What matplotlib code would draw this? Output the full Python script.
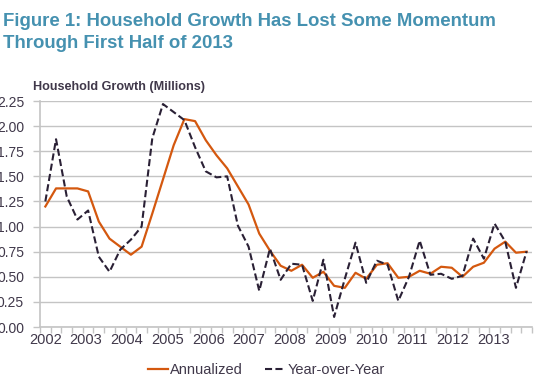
import numpy as np
import matplotlib
matplotlib.use("Agg")
import matplotlib.pyplot as plt

# quarterly household growth, 2002Q1 .. 2013Q2 (millions)
annualized = [1.20, 1.38, 1.38, 1.38, 1.35, 1.05, 0.88, 0.80, 0.72, 0.80,
              1.13, 1.47, 1.81, 2.07, 2.05, 1.86, 1.71, 1.58, 1.40, 1.22,
              0.93, 0.76, 0.61, 0.56, 0.62, 0.49, 0.55, 0.41, 0.39, 0.54,
              0.48, 0.62, 0.635, 0.49, 0.50, 0.56, 0.53, 0.60, 0.59, 0.50,
              0.60, 0.64, 0.78, 0.85, 0.74, 0.75]
year_over_year = [1.25, 1.87, 1.30, 1.07, 1.16, 0.70, 0.55, 0.77, 0.87, 1.00,
                  1.88, 2.22, 2.14, 2.06, 1.79, 1.55, 1.49, 1.50, 1.01, 0.80,
                  0.36, 0.78, 0.47, 0.63, 0.62, 0.26, 0.67, 0.10, 0.48, 0.84,
                  0.44, 0.66, 0.62, 0.26, 0.50, 0.86, 0.52, 0.53, 0.48, 0.51,
                  0.88, 0.68, 1.03, 0.85, 0.39, 0.755]
year_labels = [str(y) for y in range(2002, 2014)]
y_ticks = [0.00, 0.25, 0.50, 0.75, 1.00, 1.25, 1.50, 1.75, 2.00, 2.25]

plt.rcParams['font.family'] = ['Liberation Sans', 'DejaVu Sans']

TEXT = '#40384a'
GRID = '#c4c4c4'
ORANGE = '#d4580f'
DARK = '#2a2035'
TITLE = '#4591b0'

fig = plt.figure(figsize=(5.39, 3.77), dpi=100)
ax = fig.add_axes([0.0742, 0.1326, 0.9128, 0.5994])

x = np.arange(len(annualized))
ax.plot(x, annualized, color=ORANGE, lw=1.6, label='Annualized', zorder=3)
ax.plot(x, year_over_year, color=DARK, lw=1.5, ls=(0, (3.4, 1.6)),
        label='Year-over-Year', zorder=3)

ax.set_xlim(-0.5, len(annualized) - 0.5)
ax.set_ylim(0, 2.25)
ax.set_yticks(y_ticks)
ax.set_yticklabels([f'{v:.2f}' for v in y_ticks])
ax.yaxis.grid(True, color=GRID, lw=1.0)
ax.set_axisbelow(True)

# year labels spread evenly under the plot, category ticks at boundaries
ax.set_xticks(np.linspace(0, 41.9, len(year_labels)))
ax.set_xticklabels(year_labels)
ax.set_xticks(np.arange(-0.5, len(annualized)), minor=True)
ax.tick_params(axis='x', which='major', length=0, pad=4,
               labelsize=10.5, labelcolor=TEXT)
ax.tick_params(axis='x', which='minor', length=4, color=GRID, width=1)
ax.tick_params(axis='y', length=5, color=GRID, width=1, pad=6.5,
               labelsize=10, labelcolor=TEXT)

for s in ['top', 'right']:
    ax.spines[s].set_visible(False)
for s in ['left', 'bottom']:
    ax.spines[s].set_color(GRID)
    ax.spines[s].set_linewidth(1.2)

fig.text(0.006, 1 - 26 / 377, 'Figure 1: Household Growth Has Lost Some Momentum',
         color=TITLE, fontsize=13.4, fontweight='bold', va='baseline')
fig.text(0.006, 1 - 48.5 / 377, 'Through First Half of 2013',
         color=TITLE, fontsize=13.4, fontweight='bold', va='baseline')
fig.text(0.061, 1 - 90 / 377, 'Household Growth (Millions)', color=TEXT,
         fontsize=9.1, fontweight='bold', va='baseline')

ax.legend(loc='upper center', bbox_to_anchor=(0.46, -0.1), ncol=2,
          frameon=False, fontsize=10.5, handlelength=1.4, handletextpad=0.15,
          columnspacing=1.5, labelcolor=TEXT)

fig.savefig('out.png', dpi=100)
